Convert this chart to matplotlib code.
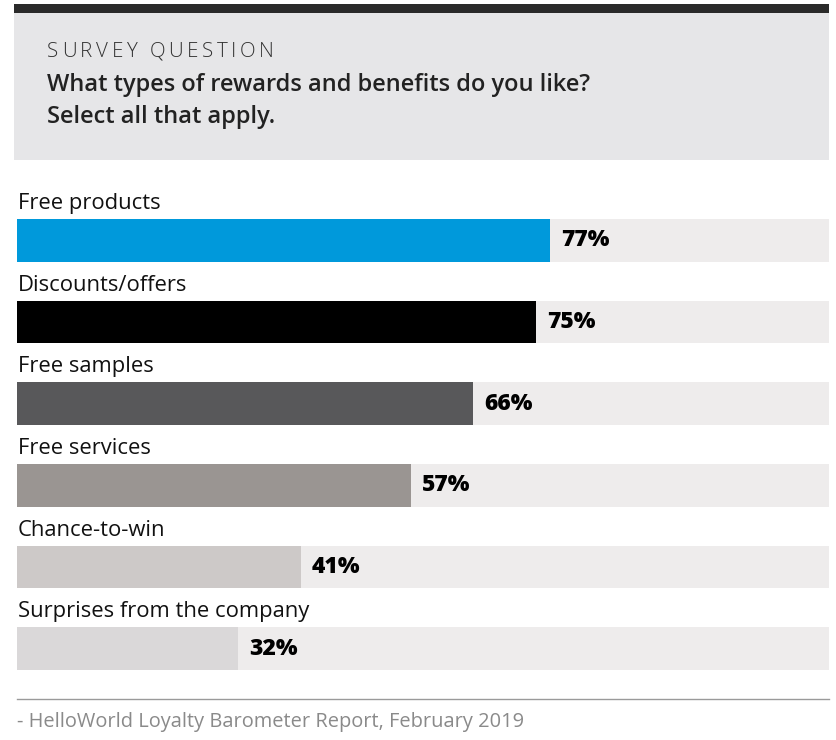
import matplotlib.pyplot as plt
from matplotlib.patches import Rectangle

categories = ['Free products', 'Discounts/offers', 'Free samples',
              'Free services', 'Chance-to-win', 'Surprises from the company']
values = [77, 75, 66, 57, 41, 32]
bar_colors = ['#0099db', '#000000', '#58585a', '#9a9592', '#cdc9c8', '#dad8d9']

question_kicker = 'SURVEY QUESTION'
question_lines = ['What types of rewards and benefits do you like?',
                  'Select all that apply.']
source_note = '- HelloWorld Loyalty Barometer Report, February 2019'

W, H = 836, 740
plt.rcParams['font.family'] = ['Open Sans', 'DejaVu Sans']

fig = plt.figure(figsize=(W / 100, H / 100), dpi=100)
fig.patch.set_facecolor('white')

# background layer in pixel coordinates (y down)
bg = fig.add_axes([0, 0, 1, 1])
bg.set_xlim(0, W)
bg.set_ylim(H, 0)
bg.axis('off')
bg.add_patch(Rectangle((14, 13), 815, 147, color='#e6e6e8', lw=0))
bg.add_patch(Rectangle((14, 4), 815, 9, color='#2a2a2a', lw=0))

# kicker with letter spacing, placed char by char
renderer = fig.canvas.get_renderer()
x = 47
for ch in question_kicker:
    t = bg.text(x, 52, ch, fontsize=14.8, fontweight='light',
                color='#333333', va='center', ha='left')
    wpx = t.get_window_extent(renderer).width if ch != ' ' else 5
    x += wpx + 3.6

bg.text(47, 85, question_lines[0], fontsize=17, fontweight='semibold',
        color='#222222', va='center', ha='left')
bg.text(47, 117, question_lines[1], fontsize=17, fontweight='semibold',
        color='#222222', va='center', ha='left')
bg.plot([17, 829], [699, 699], color='#9a9a9a', lw=1)
bg.text(17, 722, source_note, fontsize=14.4, color='#8a8a8a',
        va='center', ha='left')

# bar chart
left, right, top, bottom = 17, 829, 219, 670
ax = fig.add_axes([left / W, 1 - bottom / H, (right - left) / W, (bottom - top) / H])
ax.patch.set_alpha(0)
h = 0.524
xmax = 117.4
ypos = list(range(len(categories)))
ax.barh(ypos, [xmax] * len(values), height=h, color='#eeecec', lw=0)
ax.barh(ypos, values, height=h, color=bar_colors, lw=0)
ax.set_xlim(0, xmax)
ax.set_ylim(len(categories) - 1 + h / 2, -h / 2)
ax.axis('off')

for y, cat, v in zip(ypos, categories, values):
    ax.text(0.1, y - h / 2 - 0.12, cat, fontsize=15.8, color='#111111',
            va='baseline', ha='left', clip_on=False)
    ax.text(v + 1.6, y, f'{v}%', fontsize=16.5, fontweight='heavy',
            color='#000000', va='center', ha='left')

fig.savefig('out.png', dpi=100)
